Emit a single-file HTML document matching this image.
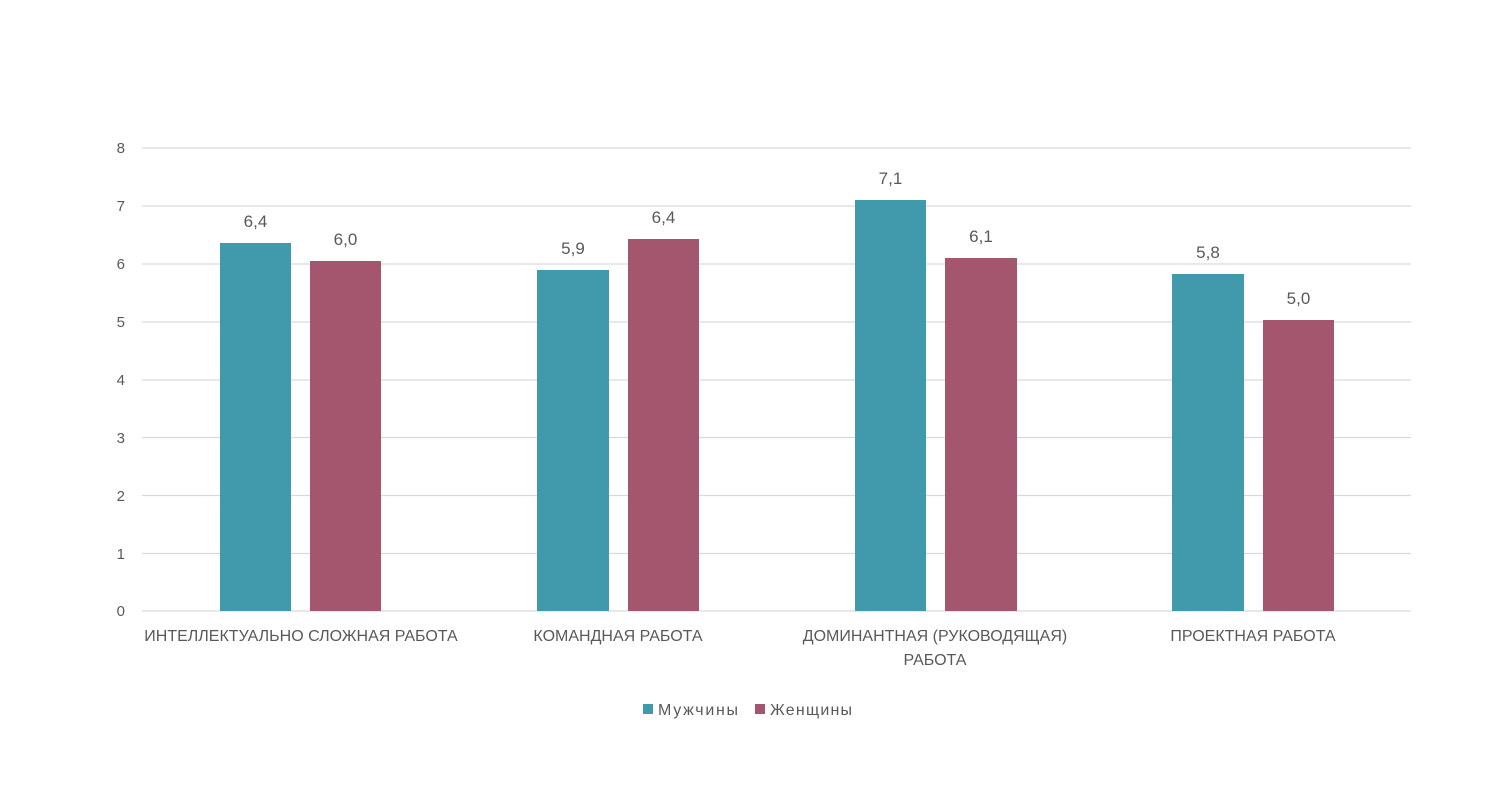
<!DOCTYPE html>
<html><head><meta charset="utf-8"><style>
body{margin:0;background:#fff;}
svg text{font-family:"Liberation Sans",sans-serif;fill:#595959;}
</style></head><body>
<svg width="1488" height="781" xmlns="http://www.w3.org/2000/svg">
<g stroke="#d9d9d9" stroke-width="1.3">
<line x1="142" x2="1411" y1="148" y2="148"/>
<line x1="142" x2="1411" y1="206" y2="206"/>
<line x1="142" x2="1411" y1="264" y2="264"/>
<line x1="142" x2="1411" y1="322" y2="322"/>
<line x1="142" x2="1411" y1="380" y2="380"/>
<line x1="142" x2="1411" y1="437.5" y2="437.5"/>
<line x1="142" x2="1411" y1="495.5" y2="495.5"/>
<line x1="142" x2="1411" y1="553.5" y2="553.5"/>
<line x1="142" x2="1411" y1="611" y2="611"/>
</g>
<g font-size="15" text-anchor="end">
<text x="125" y="153">8</text><text x="125" y="211">7</text><text x="125" y="269">6</text>
<text x="125" y="327">5</text><text x="125" y="385">4</text><text x="125" y="443">3</text>
<text x="125" y="501">2</text><text x="125" y="559">1</text><text x="125" y="616">0</text>
</g>
<g fill="#409aab">
<rect x="220" y="243" width="71" height="368"/>
<rect x="537" y="270" width="72" height="341"/>
<rect x="855" y="200" width="71" height="411"/>
<rect x="1172" y="274" width="72" height="337"/>
</g>
<g fill="#a5566f">
<rect x="310" y="261" width="71" height="350"/>
<rect x="628" y="239" width="71" height="372"/>
<rect x="945" y="258" width="72" height="353"/>
<rect x="1263" y="320" width="71" height="291"/>
</g>
<g font-size="17" text-anchor="middle" fill="#404040">
<text x="255.5" y="227">6,4</text><text x="345.5" y="245">6,0</text>
<text x="573" y="254">5,9</text><text x="663.5" y="223">6,4</text>
<text x="890.5" y="184">7,1</text><text x="981" y="242">6,1</text>
<text x="1208" y="258">5,8</text><text x="1298.5" y="304">5,0</text>
</g>
<g font-size="16" text-anchor="middle">
<text x="301" y="641">ИНТЕЛЛЕКТУАЛЬНО СЛОЖНАЯ РАБОТА</text>
<text x="618" y="641">КОМАНДНАЯ РАБОТА</text>
<text x="935" y="641">ДОМИНАНТНАЯ (РУКОВОДЯЩАЯ)</text>
<text x="935" y="665">РАБОТА</text>
<text x="1253" y="641">ПРОЕКТНАЯ РАБОТА</text>
</g>
<rect x="643" y="704" width="10" height="10" fill="#409aab"/>
<text x="658" y="715" font-size="16" textLength="80">Мужчины</text>
<rect x="755" y="704" width="10" height="10" fill="#a5566f"/>
<text x="770" y="715" font-size="16" textLength="82">Женщины</text>
</svg>
</body></html>
